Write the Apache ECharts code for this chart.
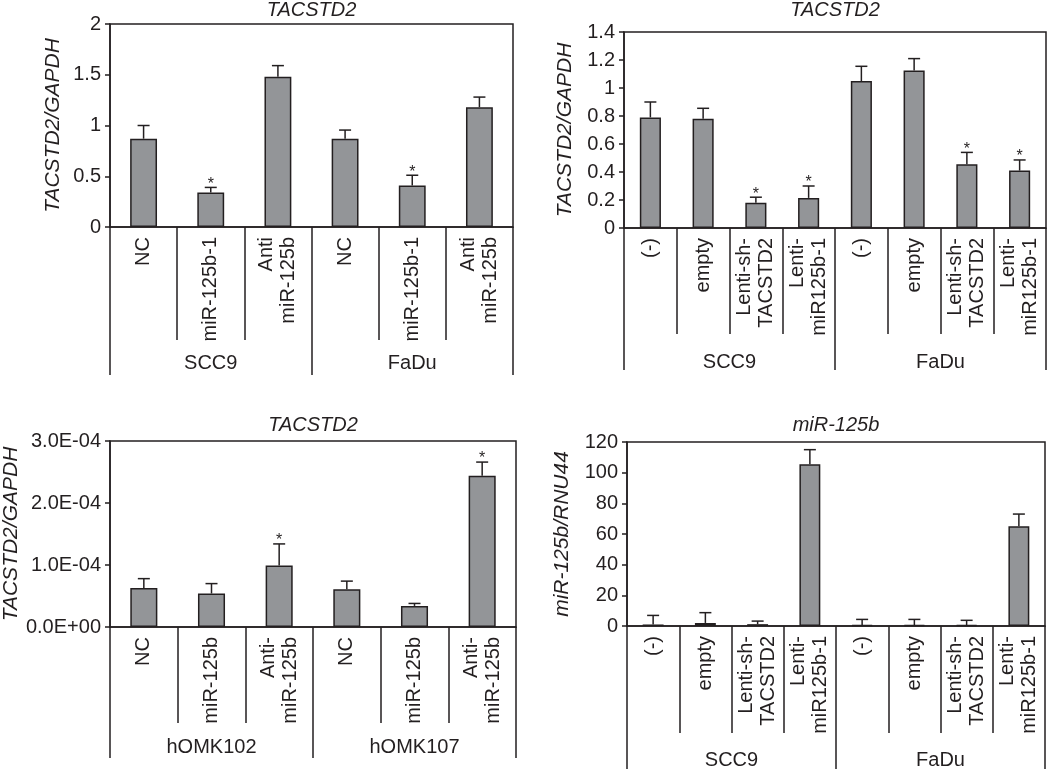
<!DOCTYPE html>
<html>
  <head>
    <meta charset="UTF-8" />
    <title></title>
    <style type="text/css">
      html,
      body {
        width: 100%;
        height: 100%;
        margin: 0;
        padding: 0;
        overflow: hidden;
        background: #fff;
      }
      #chart {
        width: 1050px;
        height: 770px;
      }
    </style>
  </head>
  <body>
    <div id="chart"></div>
    <script src="https://cdn.jsdelivr.net/npm/echarts@6/dist/echarts.min.js"></script>
    <script type="text/javascript">
      // panel 1 - TACSTD2 after miR-125b / anti-miR in SCC9, FaDu
      const p1Cats = ["NC", "miR-125b-1", "Anti\nmiR-125b", "NC", "miR-125b-1", "Anti\nmiR-125b"];
      const p1Groups = ["SCC9", "FaDu"];
      const p1Vals = [0.87, 0.34, 1.48, 0.87, 0.41, 1.18];
      const p1Upper = [1.0, 0.39, 1.59, 0.955, 0.51, 1.28];
      const p1Stars = ["", "*", "", "", "*", ""];

      // panel 2 - TACSTD2 with lentivirus
      const p2Cats = ["(-)", "empty", "Lenti-sh-\nTACSTD2", "Lenti-\nmiR125b-1", "(-)", "empty", "Lenti-sh-\nTACSTD2", "Lenti-\nmiR125b-1"];
      const p2Groups = ["SCC9", "FaDu"];
      const p2Vals = [0.79, 0.78, 0.18, 0.215, 1.05, 1.125, 0.455, 0.41];
      const p2Upper = [0.9, 0.855, 0.22, 0.3, 1.155, 1.21, 0.54, 0.486];
      const p2Stars = ["", "", "*", "*", "", "", "*", "*"];

      // panel 3 - TACSTD2 in hOMK cells
      const p3Cats = ["NC", "miR-125b", "Anti-\nmiR-125b", "NC", "miR-125b", "Anti-\nmiR-125b"];
      const p3Groups = ["hOMK102", "hOMK107"];
      const p3Vals = [0.63e-4, 0.54e-4, 0.99e-4, 0.61e-4, 0.34e-4, 2.44e-4];
      const p3Upper = [0.78e-4, 0.7e-4, 1.34e-4, 0.74e-4, 0.38e-4, 2.66e-4];
      const p3Stars = ["", "", "*", "", "", "*"];

      // panel 4 - miR-125b levels
      const p4Cats = p2Cats;
      const p4Groups = ["SCC9", "FaDu"];
      const p4Vals = [1.0, 2.0, 1.2, 105.5, 0.5, 0.5, 0.5, 65];
      const p4Upper = [6.9, 8.7, 3.2, 115, 4.3, 4.3, 3.7, 73];
      const p4Stars = ["", "", "", "", "", "", "", ""];

      const FONT = "Liberation Sans, Arial, Helvetica, sans-serif";
      const INK = "#231f20";
      const BAR = "#939598";
      const FS = 20;

      const sciLabel = function (v) {
        const s = v.toExponential(1).toUpperCase();
        return s.replace(/E([+-])(\d)$/, function (m, sign, d) {
          return "E" + sign + "0" + d;
        });
      };

      const panels = [
        {
          title: "TACSTD2", yName: "TACSTD2/GAPDH",
          cats: p1Cats, groups: p1Groups, vals: p1Vals, upper: p1Upper, stars: p1Stars,
          grid: { left: 110, top: 24, width: 403, height: 203 }, titleTop: 0,
          max: 2, interval: 0.5, nameGap: 46, catTick: 113, groupTick: 148, groupMargin: 126,
        },
        {
          title: "TACSTD2", yName: "TACSTD2/GAPDH",
          cats: p2Cats, groups: p2Groups, vals: p2Vals, upper: p2Upper, stars: p2Stars,
          grid: { left: 624, top: 32, width: 422, height: 196 }, titleTop: 0,
          max: 1.4, interval: 0.2, nameGap: 48, catTick: 106, groupTick: 142, groupMargin: 124,
        },
        {
          title: "TACSTD2", yName: "TACSTD2/GAPDH",
          cats: p3Cats, groups: p3Groups, vals: p3Vals, upper: p3Upper, stars: p3Stars,
          grid: { left: 110, top: 441, width: 406, height: 186 }, titleTop: 415,
          max: 3e-4, interval: 1e-4, nameGap: 83, catTick: 96, groupTick: 131, groupMargin: 110,
          fmt: sciLabel,
        },
        {
          title: "miR-125b", yName: "miR-125b/RNU44",
          cats: p4Cats, groups: p4Groups, vals: p4Vals, upper: p4Upper, stars: p4Stars,
          grid: { left: 627, top: 442, width: 418, height: 185 }, titleTop: 415,
          max: 120, interval: 20, nameGap: 54, catTick: 107, groupTick: 143, groupMargin: 124,
        },
      ];

      const errRender = function (stars) {
        return function (params, api) {
          const i = api.value(0);
          const top = api.coord([i, api.value(1)]);
          const base = api.coord([i, api.value(2)]);
          const cap = 6;
          const style = { stroke: INK, lineWidth: 1.5 };
          const children = [
            { type: "line", shape: { x1: top[0], y1: base[1], x2: top[0], y2: top[1] }, style: style },
            { type: "line", shape: { x1: top[0] - cap, y1: top[1], x2: top[0] + cap, y2: top[1] }, style: style },
          ];
          if (stars[params.dataIndex]) {
            children.push({
              type: "text",
              style: {
                text: stars[params.dataIndex], x: top[0], y: top[1] - 3,
                align: "center", verticalAlign: "middle",
                fontSize: 16, fontFamily: FONT, fill: INK,
              },
            });
          }
          return { type: "group", children: children };
        };
      };

      const option = {
        backgroundColor: "#fff",
        animation: false,
        textStyle: { fontFamily: FONT },
        title: [],
        grid: [],
        xAxis: [],
        yAxis: [],
        series: [],
      };

      panels.forEach(function (p, k) {
        option.title.push({
          text: p.title,
          left: p.grid.left + p.grid.width / 2,
          top: p.titleTop,
          textAlign: "center",
          padding: 0,
          textStyle: { fontSize: FS, fontStyle: "italic", fontWeight: "normal", color: INK, fontFamily: FONT },
        });
        option.grid.push(Object.assign({ show: true, borderColor: INK, borderWidth: 1.5, backgroundColor: "#fff" }, p.grid));

        option.xAxis.push({
          type: "category", gridIndex: k, position: "bottom", data: p.cats,
          axisLine: { show: true, lineStyle: { color: INK, width: 1.5 } },
          axisTick: { show: true, interval: 0, length: p.catTick, lineStyle: { color: INK, width: 1.5 } },
          axisLabel: {
            interval: 0, rotate: 90, margin: 10, color: INK,
            fontSize: FS, lineHeight: 22, fontFamily: FONT,
          },
        });
        option.xAxis.push({
          type: "category", gridIndex: k, position: "bottom", data: p.groups,
          axisLine: { show: false },
          axisTick: { show: true, interval: 0, length: p.groupTick, lineStyle: { color: INK, width: 1.5 } },
          axisLabel: { interval: 0, margin: p.groupMargin, color: INK, fontSize: FS, fontFamily: FONT },
        });
        option.yAxis.push({
          type: "value", gridIndex: k, min: 0, max: p.max, interval: p.interval,
          name: p.yName, nameLocation: "middle", nameGap: p.nameGap,
          nameTextStyle: { fontSize: FS + 1, fontStyle: "italic", color: INK, fontFamily: FONT },
          axisLine: { show: true, lineStyle: { color: INK, width: 1.5 } },
          axisTick: { show: true, length: 5, lineStyle: { color: INK, width: 1.5 } },
          splitLine: { show: false },
          axisLabel: { margin: 9, color: INK, fontSize: FS, fontFamily: FONT, formatter: p.fmt },
        });

        option.series.push({
          type: "bar",
          xAxisIndex: k * 2,
          yAxisIndex: k,
          barWidth: "40%",
          data: p.vals,
          itemStyle: { color: BAR, borderColor: INK, borderWidth: 1.5 },
          z: 2,
        });
        option.series.push({
          type: "custom",
          xAxisIndex: k * 2,
          yAxisIndex: k,
          clip: false,
          z: 3,
          renderItem: errRender(p.stars),
          data: p.cats.map(function (c, i) {
            return [i, p.upper[i], p.vals[i]];
          }),
        });
      });

      const chart = echarts.init(document.getElementById("chart"));
      chart.setOption(option);
    </script>
  </body>
</html>
